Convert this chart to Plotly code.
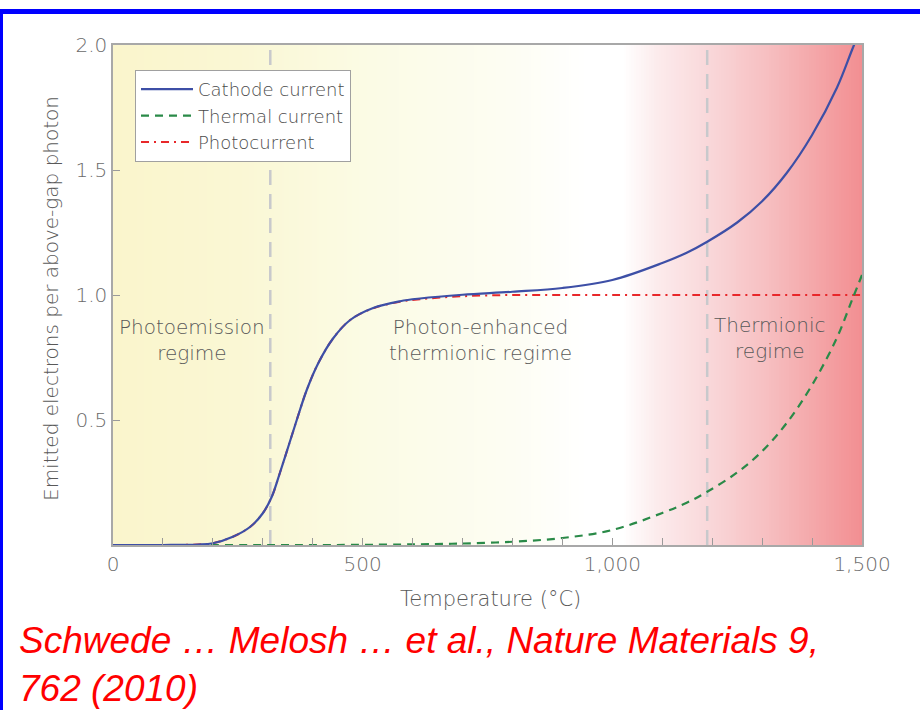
import numpy as np
import plotly.graph_objects as go

# Temperature samples (°C) shared by the three current curves
temps = [0, 100, 170, 200, 240, 275, 300, 318, 334, 351, 368, 388, 411, 441, 475, 521,
         575, 615, 700, 800, 900, 1000, 1100, 1150, 1190, 1250, 1300, 1350, 1400, 1450, 1480, 1500]

# Emitted electrons per above-gap photon
photocurrent = [0, 0, 0.002, 0.007, 0.033, 0.073, 0.127, 0.193, 0.287, 0.393, 0.5, 0.62, 0.727, 0.827, 0.9, 0.947,
                0.973, 0.983, 0.995, 1.0, 1.0, 1.0, 1.0, 1.0, 1.0, 1.0, 1.0, 1.0, 1.0, 1.0, 1.0, 1.0]
thermal_current = [0, 0, 0, 0, 0, 0, 0, 0, 0, 0, 0, 0, 0, 0, 0.0005, 0.001,
                   0.002, 0.003, 0.006, 0.013, 0.028, 0.06, 0.128, 0.17, 0.213, 0.29, 0.375, 0.49, 0.64, 0.83, 0.98, 1.08]
cathode_current = [0, 0, 0.002, 0.007, 0.033, 0.073, 0.127, 0.193, 0.287, 0.393, 0.5, 0.62, 0.727, 0.827, 0.9, 0.948,
                   0.975, 0.986, 1.001, 1.013, 1.028, 1.06, 1.128, 1.17, 1.213, 1.29, 1.375, 1.49, 1.64, 1.83, 1.98, 2.08]

# Regime boundaries (°C)
regime_bounds = [315, 1190]
regime_labels = ["Photoemission<br>regime", "Photon-enhanced<br>thermionic regime", "Thermionic<br>regime"]
regime_label_x = [158, 735, 1316]
regime_label_y = [0.82, 0.82, 0.83]

# Background colour stops along temperature
bg_stop_temps = [0, 250, 500, 800, 950, 1020, 1090, 1190, 1300, 1400, 1500]
bg_stop_colors = ["#faf5cc", "#faf7d4", "#fbfbe4", "#fdfdf3", "#ffffff", "#ffffff",
                  "#fcebec", "#f9d8da", "#f7c1c3", "#f4a8aa", "#f28e91"]

x_ticks = list(range(0, 1501, 100))
x_ticktext = ["0" if t == 0 else ("{:,}".format(t) if t % 500 == 0 else "") for t in x_ticks]
y_ticks = [0.5, 1.0, 1.5, 2.0]
y_ticktext = ["0.5", "1.0", "1.5", "2.0"]

citation_lines = ["Schwede … Melosh … et al., Nature Materials 9,", "762 (2010)"]

FONT = "DejaVu Sans"
GREY_TXT = "#595959"

fig = go.Figure()

# Temperature-graded background
bg_x = np.linspace(0, 1500, 301)
colorscale = [[t / 1500, c] for t, c in zip(bg_stop_temps, bg_stop_colors)]
fig.add_trace(go.Heatmap(
    x=bg_x, y=[0, 2], z=[bg_x, bg_x], colorscale=colorscale, zmin=0, zmax=1500,
    showscale=False, hoverinfo="skip",
))

# Regime boundary lines
for b in regime_bounds:
    fig.add_trace(go.Scatter(
        x=[b, b], y=[0, 2], mode="lines", showlegend=False, hoverinfo="skip",
        line=dict(color="#c8c9cc", width=2.5, dash="15px,9px"),
    ))

fig.add_trace(go.Scatter(
    x=temps, y=photocurrent, mode="lines", name="Photocurrent", legendrank=3,
    line=dict(color="#e8272a", width=2, dash="8px,5px,2px,5px", shape="spline", smoothing=1),
))
fig.add_trace(go.Scatter(
    x=temps, y=thermal_current, mode="lines", name="Thermal current", legendrank=2,
    line=dict(color="#2a8a48", width=2.2, dash="8px,6px", shape="spline", smoothing=1),
))
fig.add_trace(go.Scatter(
    x=temps, y=cathode_current, mode="lines", name="Cathode current", legendrank=1,
    line=dict(color="#3d4fa6", width=2.2, shape="spline", smoothing=1),
))

for txt, lx, ly in zip(regime_labels, regime_label_x, regime_label_y):
    fig.add_annotation(x=lx, y=ly, xref="x", yref="y", text=txt, showarrow=False,
                       font=dict(family=FONT, size=20, color=GREY_TXT, weight=300), align="center")

# Axis titles
fig.add_annotation(x=(51 - 113) / 749, y=(545 - 299) / 500, xref="paper", yref="paper",
                   xanchor="center", yanchor="middle",
                   text="Emitted electrons per above-gap photon", textangle=-90, showarrow=False,
                   font=dict(family=FONT, size=20, color=GREY_TXT, weight=300))
fig.add_annotation(x=(490 - 113) / 749, y=(545 - 599) / 500, xref="paper", yref="paper",
                   xanchor="center", yanchor="middle",
                   text="Temperature (°C)", showarrow=False,
                   font=dict(family=FONT, size=21, color=GREY_TXT, weight=300))

# Citation, one annotation per line
cite_font = dict(family="Liberation Sans", size=37, color="#ff0000")
for line_text, centre_px in zip(citation_lines, [640, 688]):
    fig.add_annotation(x=(18 - 113) / 749, y=(545 - centre_px) / 500, xref="paper", yref="paper",
                       xanchor="left", yanchor="middle", align="left",
                       borderpad=0, showarrow=False,
                       text="<i>" + line_text + "</i>", font=cite_font)

# Slide frame (top and left edges)
fig.add_shape(type="rect", xref="paper", yref="paper",
              x0=(0 - 113) / 749, x1=(920 - 113) / 749, y0=(545 - 14) / 500, y1=(545 - 9) / 500,
              fillcolor="#0000ff", line=dict(width=0))
fig.add_shape(type="rect", xref="paper", yref="paper",
              x0=(0 - 113) / 749, x1=(3 - 113) / 749, y0=(545 - 710) / 500, y1=(545 - 9) / 500,
              fillcolor="#0000ff", line=dict(width=0))

axis_common = dict(showline=True, linecolor="#a8a8a8", linewidth=1.5, mirror=True,
                   ticks="inside", ticklen=7, tickcolor="#9a9a9a", tickwidth=1.2,
                   showgrid=False, zeroline=False,
                   tickfont=dict(family=FONT, size=20, color="#6a6a6a", weight=300))

fig.update_xaxes(range=[0, 1500], tickmode="array", tickvals=x_ticks, ticktext=x_ticktext, **axis_common)
fig.update_yaxes(range=[0, 2], tickmode="array", tickvals=y_ticks, ticktext=y_ticktext, **axis_common)

fig.update_layout(
    width=920, height=710,
    margin=dict(l=113, r=58, t=45, b=165),
    paper_bgcolor="white", plot_bgcolor="white",
    showlegend=True,
    legend=dict(x=(135 - 113) / 749, y=(545 - 70) / 500, xanchor="left", yanchor="top",
                bgcolor="white", bordercolor="#a0a0a0", borderwidth=1,
                font=dict(family=FONT, size=18, color="#4a4a4a", weight=300),
                tracegroupgap=0, itemwidth=52),
    hovermode=False,
)

fig.write_html("out.html")
